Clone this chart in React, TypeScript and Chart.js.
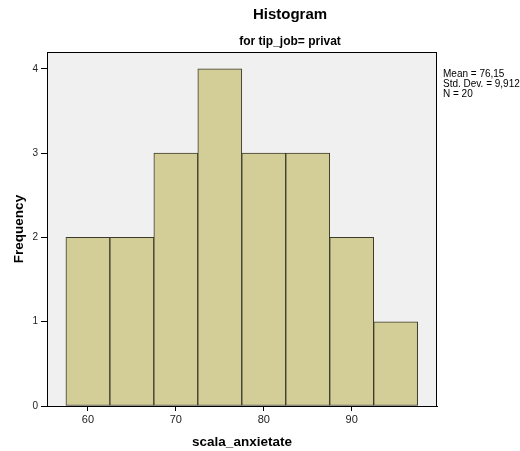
import React, { useEffect, useRef } from "react";
import { Chart, registerables } from "chart.js";

Chart.register(...registerables);

const binCenters = [60, 65, 70, 75, 80, 85, 90, 95];
const frequencies = [2, 2, 3, 4, 3, 3, 2, 1];
const xTickValues = [60, 70, 80, 90];
const yTickValues = [0, 1, 2, 3, 4];
const titleText = "Histogram";
const subtitleText = "for tip_job= privat";
const xAxisTitle = "scala_anxietate";
const yAxisTitle = "Frequency";
const statsLines = ["Mean = 76,15", "Std. Dev. = 9,912", "N = 20"];

const FONT = "Arial, 'Liberation Sans', sans-serif";

export default function App() {
  const ref = useRef<HTMLCanvasElement | null>(null);
  useEffect(() => {
    if (!ref.current) return;
    const decor = {
      id: "decor",
      beforeDraw(chart: any) {
        const { ctx, chartArea } = chart;
        ctx.save();
        ctx.fillStyle = "#f0f0f0";
        ctx.fillRect(chartArea.left, chartArea.top, chartArea.right - chartArea.left, chartArea.bottom - chartArea.top);
        ctx.restore();
      },
      afterDraw(chart: any) {
        const { ctx, chartArea } = chart;
        ctx.save();
        ctx.strokeStyle = "#000";
        ctx.lineWidth = 1;
        ctx.strokeRect(chartArea.left + 0.5, chartArea.top + 0.5, chartArea.right - chartArea.left - 1, chartArea.bottom - chartArea.top);
        const cx = (chartArea.left + chartArea.right) / 2;
        ctx.fillStyle = "#000";
        ctx.textAlign = "center";
        ctx.textBaseline = "middle";
        ctx.font = `bold 15px ${FONT}`;
        ctx.fillText(titleText, 290, 15);
        ctx.font = `bold 12px ${FONT}`;
        ctx.fillText(subtitleText, 290, 42);
        ctx.font = `bold 13.5px ${FONT}`;
        ctx.fillText(xAxisTitle, cx, 442);
        ctx.save();
        ctx.translate(19, (chartArea.top + chartArea.bottom) / 2);
        ctx.rotate(-Math.PI / 2);
        ctx.fillText(yAxisTitle, 0, 0);
        ctx.restore();
        ctx.font = `10px ${FONT}`;
        ctx.textAlign = "left";
        statsLines.forEach((s, i) => ctx.fillText(s, 443, 74 + i * 10));
        ctx.restore();
      },
    };
    const chart = new Chart(ref.current, {
      type: "bar",
      data: {
        datasets: [
          {
            data: binCenters.map((x, i) => ({ x, y: frequencies[i] })),
            backgroundColor: "#d3ce98",
            borderColor: "#3c3b2b",
            borderWidth: 1,
            borderSkipped: false,
            barPercentage: 1,
            categoryPercentage: 1,
          } as any,
        ],
      },
      options: {
        animation: false,
        responsive: false,
        maintainAspectRatio: false,
        layout: { padding: { top: 52, right: 83, left: 0, bottom: 0 } },
        plugins: { legend: { display: false }, tooltip: { enabled: false }, title: { display: false } },
        scales: {
          x: {
            type: "linear",
            min: 55.35,
            max: 99.7,
            offset: false,
            afterFit(scale: any) { scale.height = 45; },
            afterBuildTicks(scale: any) {
              scale.ticks = xTickValues.map((v) => ({ value: v }));
            },
            grid: { display: true, offset: false, drawOnChartArea: false, drawTicks: true, tickLength: 5, color: "#000" },
            border: { display: true, color: "#000" },
            ticks: { color: "#222", font: { family: FONT, size: 11 }, padding: 2 },
          },
          y: {
            type: "linear",
            min: 0,
            max: 4.2,
            afterFit(scale: any) { scale.width = 47; },
            afterBuildTicks(scale: any) {
              scale.ticks = yTickValues.map((v) => ({ value: v }));
            },
            grid: { display: true, drawOnChartArea: false, drawTicks: true, tickLength: 6, color: "#000" },
            border: { display: true, color: "#000" },
            ticks: { color: "#222", font: { family: FONT, size: 10 }, padding: 3 },
          },
        },
      } as any,
      plugins: [decor],
    });
    return () => chart.destroy();
  }, []);
  return (
    <div style={{ position: "fixed", left: 0, top: 0, width: 520, height: 451, background: "#fff" }}>
      <canvas ref={ref} width={520} height={451} style={{ width: 520, height: 451 }} />
    </div>
  );
}
